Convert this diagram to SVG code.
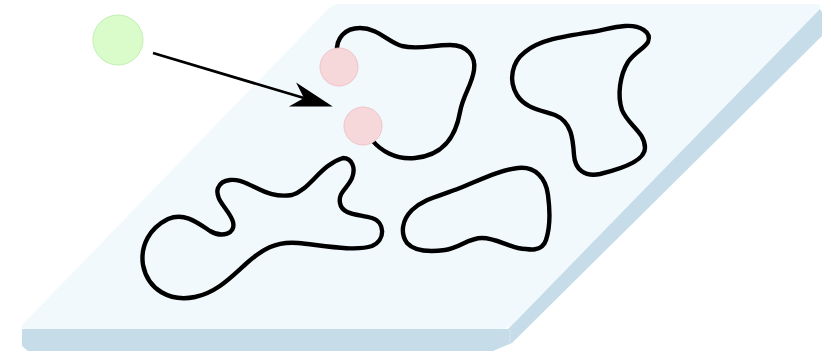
<svg xmlns="http://www.w3.org/2000/svg" width="831" height="352" viewBox="0 0 831 352">
<style>
.blob{fill:none;stroke:#000;stroke-width:4.4;stroke-linecap:round;stroke-linejoin:round}
.pink{fill:#f6d8db;stroke:#efc3c7;stroke-width:1}
.green{fill:#d9fcca;stroke:#c5edb3;stroke-width:1}
.conn{fill:none;stroke:#000;stroke-width:2.8}
</style>
<defs>
<marker id="head" markerUnits="userSpaceOnUse" viewBox="-14 -14 46 28" markerWidth="46" markerHeight="28" refX="0" refY="0" orient="auto">
<path d="M30,0 L-12,-12.5 L0,0 L-12,12.5 Z" fill="#000"/>
</marker>
</defs>
<g id="plate">
<path d="M22,329 L508,329 L819,8 L822,12 L822,36 L512,343 L493,351 L28,351 L22,346 Z" fill="#c6dde9"/>
<path d="M22,325 L328,9 Q333,4 340,4 L815,4 Q824,4 819,10 L515,322 Q508,329 498,329 L26,329 Q20,329 22,325 Z" fill="#f2f9fd"/>
<line x1="510" y1="330" x2="510" y2="343" stroke="#d3e6ef" stroke-width="1"/>
</g>
<g id="region1"><path class="blob" d="M337,52 C336,38 345,28 360,28 C378,28 388,42 402,46 C418,50 432,45 450,45 C468,45 476,57 474,70 C472,85 463,95 460,112 C456,135 445,155 415,158 C395,160 380,150 372,140"/></g>
<g id="region2"><path class="blob" d="M592,32 C605,30 612,27 625,26 C640,25 652,32 648,42 C645,48 635,52 628,62 C620,75 617,95 622,110 C628,125 645,132 645,148 C645,160 625,168 600,174 C585,177 575,170 574,155 C573,140 572,122 555,115 C540,110 525,108 517,95 C508,80 512,62 525,52 C540,40 560,37 592,32 Z"/></g>
<g id="region3"><path class="blob" d="M343,158 C352,158 356,168 352,178 C348,188 338,192 340,203 C342,215 358,214 372,218 C385,222 386,240 372,246 C355,252 320,245 298,243 C275,241 262,250 248,262 C232,276 218,292 195,297 C170,302 148,290 143,265 C140,245 150,228 168,219 C185,212 198,223 210,231 C222,238 236,234 233,222 C230,210 214,200 218,188 C222,178 236,178 248,184 C262,190 272,198 292,195 C310,190 320,165 343,158 Z"/></g>
<g id="region4"><path class="blob" d="M518,168 C535,166 546,178 548,195 C550,210 550,228 546,240 C542,252 530,250 518,248 C505,245 495,238 482,238 C468,238 460,248 445,250 C430,252 415,252 407,243 C400,233 402,220 412,210 C425,198 440,196 460,188 C480,180 500,170 518,168 Z"/></g>
<g id="site1"><circle class="pink" cx="339" cy="67" r="19"/></g>
<g id="site2"><circle class="pink" cx="363" cy="126" r="19"/></g>
<g id="particle"><circle class="green" cx="118" cy="40" r="25"/></g>
<g id="connectors">
<path class="conn" d="M153,53 L304,98" marker-end="url(#head)"/>
</g>
</svg>
